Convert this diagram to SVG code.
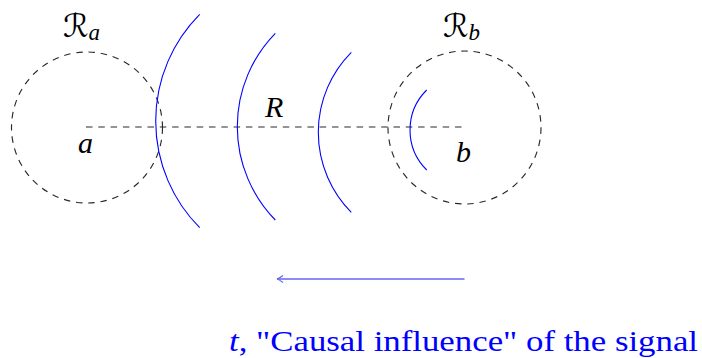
<svg xmlns="http://www.w3.org/2000/svg" width="702" height="358" viewBox="0 0 702 358">
<style>
.dash{fill:none;stroke:#2a2a2a;stroke-width:1.15;stroke-dasharray:6.5 5.8}
.wave{fill:none;stroke:#0000ff;stroke-width:1.1}
.lbl{font-family:"Liberation Serif","DejaVu Serif",serif;font-style:italic;font-size:30px;fill:#000}
.cal{font-family:"DejaVu Serif","DejaVu Sans","Noto Sans",serif;font-size:32px;fill:#000}
.sub{font-family:"Liberation Serif","DejaVu Serif",serif;font-style:italic;font-size:23px;fill:#000}
.cap{font-family:"Liberation Serif","DejaVu Serif",serif;font-size:29px;fill:#0000ff}
</style>
<defs>
<marker id="ah" markerWidth="10" markerHeight="10" refX="7" refY="5" orient="auto" markerUnits="userSpaceOnUse">
<path d="M1,1.5 Q5,4.5 7,5 Q5,5.5 1,8.5" fill="none" stroke="#6464f0" stroke-width="1.2"/>
</marker>
</defs>
<g id="region-a">
<circle class="dash" cx="87" cy="127.5" r="75.5"/>
<text class="cal" x="63" y="37">ℛ<tspan class="sub" dy="3">a</tspan></text>
<text class="lbl" x="78" y="153">a</text>
</g>
<g id="region-b">
<circle class="dash" cx="464.5" cy="127.5" r="76.5"/>
<text class="cal" x="443" y="37">ℛ<tspan class="sub" dy="3">b</tspan></text>
<text class="lbl" x="456" y="162">b</text>
</g>
<g id="connectors">
<line class="dash" x1="86" y1="127" x2="462" y2="127"/>
<text class="lbl" x="265" y="117">R</text>
</g>
<g id="waves">
<path class="wave" d="M199.7,14.3 A151.4,151.4 0 0 0 199.7,227.7"/>
<path class="wave" d="M275.3,33.3 A133.7,133.7 0 0 0 275.3,220"/>
<path class="wave" d="M351.3,52.3 A113.5,113.5 0 0 0 351.3,212.3"/>
<path class="wave" d="M426.7,90 A56.3,56.3 0 0 0 426.7,170"/>
</g>
<g id="signal">
<line x1="464.5" y1="279" x2="277" y2="279" stroke="#6464f0" stroke-width="1.4" marker-end="url(#ah)"/>
<text class="cap" x="229" y="351" textLength="469" lengthAdjust="spacingAndGlyphs"><tspan font-style="italic">t</tspan>, "Causal influence" of the signal</text>
</g>
</svg>
